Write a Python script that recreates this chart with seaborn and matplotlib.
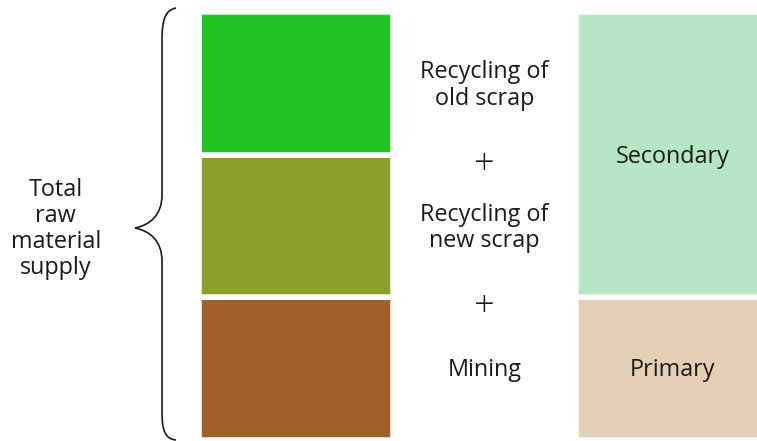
import matplotlib
matplotlib.use("Agg")
import matplotlib.pyplot as plt
from matplotlib.path import Path
from matplotlib.patches import PathPatch
import matplotlib.transforms as mtransforms
import seaborn as sns

# ---- data ----
columns = ["Sources", "Supply type"]
source_labels = ["Mining", "Recycling of\nnew scrap", "Recycling of\nold scrap"]
source_values = [1, 1, 1]
source_colors = ["#a0602a", "#8c9f2a", "#22c322"]
type_labels = ["Primary", "Secondary"]
type_values = [1, 2]
type_colors = ["#e6d0b5", "#b7e6c4"]
total_label = "Total\nraw\nmaterial\nsupply"

plt.rcParams["font.family"] = ["Open Sans", "DejaVu Sans"]
TEXT = "#1a1a1a"

fig = plt.figure(figsize=(7.57, 4.41), dpi=100)
ax = fig.add_axes([0, 0, 1, 1])

GAP_LW = 5.5 * 72 / 100  # white separator in points
BAR_W = 0.513

def stack(col, values, colors):
    bottom = 0
    for v, c in zip(values, colors):
        sns.barplot(x=[col], y=[v], order=columns, bottom=bottom, color=c,
                    saturation=1, width=BAR_W, errorbar=None, ax=ax,
                    edgecolor="white", linewidth=GAP_LW)
        bottom += v

stack(columns[0], source_values, source_colors)
stack(columns[1], type_values, type_colors)

ax.set_xlim(-296 / 377, 461 / 377)
ax.set_ylim(-1.25 / 142.5, (441 - 1.25) / 142.5)
ax.axis("off")

FS = 16.8
DY = 0.014  # small downward nudge of labels
# middle labels at segment centres
cum = 0
for i, (lab, v) in enumerate(zip(source_labels, source_values)):
    ax.text(0.5, cum + v / 2 - DY, lab, ha="center", va="center", fontsize=FS,
            color=TEXT, linespacing=1.12)
    cum += v
    if i < len(source_values) - 1:
        ax.text(0.5, cum - 0.075, "+", ha="center", va="center",
                fontsize=26, color=TEXT, fontweight="light")

cum = 0
for lab, v in zip(type_labels, type_values):
    ax.text(1, cum + v / 2 - DY, lab, ha="center", va="center", fontsize=FS,
            color=TEXT)
    cum += v

ax.text(-0.637, sum(source_values) / 2 - 0.021, total_label, ha="center",
        va="center", fontsize=FS, color=TEXT, linespacing=1.12)

# curly brace, in pixel coordinates (origin top-left)
H = 441
pts = [(176, 8), (166, 10), (162, 18), (162, 40),
       (162, 195),
       (162, 215), (150, 225), (135, 228),
       (150, 231), (162, 241), (162, 261),
       (162, 412),
       (162, 432), (166, 439), (176, 440)]
codes = [Path.MOVETO, Path.CURVE4, Path.CURVE4, Path.CURVE4,
         Path.LINETO,
         Path.CURVE4, Path.CURVE4, Path.CURVE4,
         Path.CURVE4, Path.CURVE4, Path.CURVE4,
         Path.LINETO,
         Path.CURVE4, Path.CURVE4, Path.CURVE4]
pix = mtransforms.Affine2D().scale(1 / 757, 1 / 441) + fig.transFigure
path = Path([(x, H - y) for x, y in pts], codes)
fig.patches.append(PathPatch(path, facecolor="none", edgecolor=TEXT,
                             linewidth=1.2, transform=pix))

fig.savefig("out.png", dpi=100)
